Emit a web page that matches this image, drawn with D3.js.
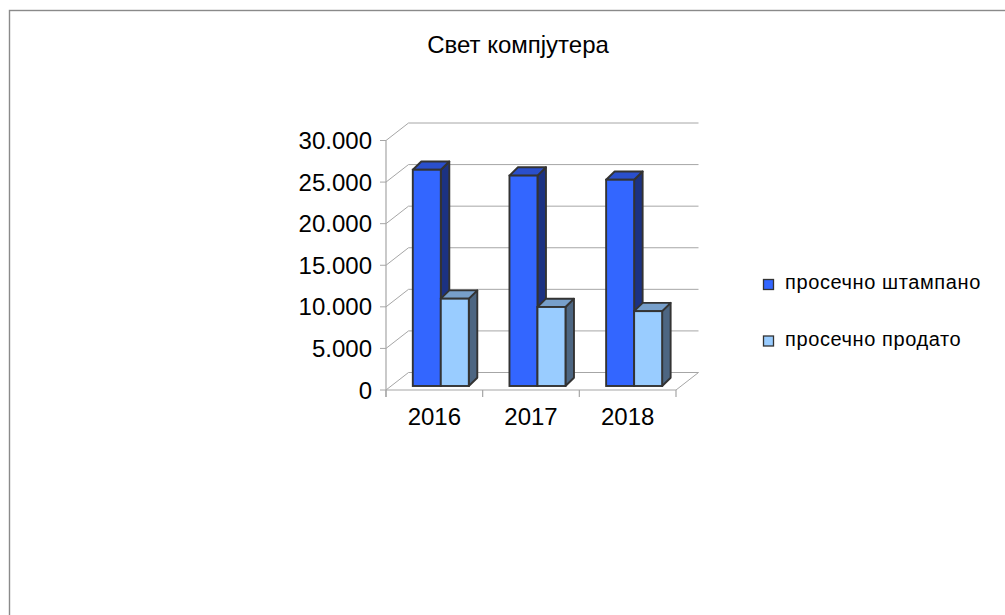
<!DOCTYPE html>
<html><head><meta charset="utf-8">
<script src="https://cdn.jsdelivr.net/npm/d3@7"></script>
<style>html,body{margin:0;padding:0;background:#fff;}svg{display:block;}</style>
</head><body>
<svg id="chart" width="1005" height="615"></svg>
<script>
const title = "Свет компјутера";
const categories = ["2016", "2017", "2018"];
const seriesNames = ["просечно штампано", "просечно продато"];
const printed = [26000, 25300, 24800];
const sold = [10500, 9500, 9000];
const yTicks = [0, 5000, 10000, 15000, 20000, 25000, 30000];
const yTickLabels = ["0", "5.000", "10.000", "15.000", "20.000", "25.000", "30.000"];

const series = [
  {name: seriesNames[0], values: printed, front: "#3366ff", top: "#2a4fcc", side: "#1c3282", legend: "#3366ff"},
  {name: seriesNames[1], values: sold, front: "#99ccff", top: "#779fca", side: "#4d6682", legend: "#99ccff"}
];

const svg = d3.select("#chart");
const font = "'Liberation Sans', Arial, sans-serif";

// border
svg.append("rect").attr("x", 9.5).attr("y", 10.5).attr("width", 1100).attr("height", 700)
  .attr("fill", "none").attr("stroke", "#8a8a8a").attr("stroke-width", 1.4);

// title
svg.append("text").attr("x", 518).attr("y", 53).attr("text-anchor", "middle")
  .attr("font-family", font).attr("font-size", 24).attr("fill", "#000").text(title);

// geometry
const x0 = 386, x1 = 676;
const wallDx = 22.5, wallDy = -17.5;
const y = d3.scaleLinear().domain([0, 30000]).range([390, 140.5]);
const xb = d3.scaleBand().domain(categories).range([x0, x1]).padding(0);
const grid = "#a6a6a6";

const g = svg.append("g");
// back wall gridlines + left wall diagonals
yTicks.forEach((t, i) => {
  const yy = y(t);
  g.append("line").attr("x1", x0 + wallDx).attr("x2", x1 + wallDx)
    .attr("y1", yy + wallDy).attr("y2", yy + wallDy).attr("stroke", grid).attr("stroke-width", 1);
  g.append("line").attr("x1", x0).attr("y1", yy).attr("x2", x0 + wallDx).attr("y2", yy + wallDy)
    .attr("stroke", grid).attr("stroke-width", 1);
  g.append("line").attr("x1", x0 - 6).attr("x2", x0).attr("y1", yy).attr("y2", yy)
    .attr("stroke", grid).attr("stroke-width", 1);
  g.append("text").attr("x", 372).attr("y", yy + 8.5).attr("text-anchor", "end")
    .attr("font-family", font).attr("font-size", 24).attr("fill", "#000")
    .text(yTickLabels[i]);
});
// floor right diagonal
g.append("line").attr("x1", x1).attr("y1", y(0)).attr("x2", x1 + wallDx).attr("y2", y(0) + wallDy)
  .attr("stroke", grid).attr("stroke-width", 1);
// front y axis
g.append("line").attr("x1", x0).attr("x2", x0).attr("y1", y(30000)).attr("y2", y(0) + 7)
  .attr("stroke", grid).attr("stroke-width", 1.2);
// front x axis
g.append("line").attr("x1", x0).attr("x2", x1).attr("y1", y(0)).attr("y2", y(0))
  .attr("stroke", grid).attr("stroke-width", 1.2);
categories.concat(["end"]).forEach((c, i) => {
  const xx = i < categories.length ? xb(c) : x1;
  g.append("line").attr("x1", xx).attr("x2", xx).attr("y1", y(0)).attr("y2", y(0) + 7)
    .attr("stroke", grid).attr("stroke-width", 1.2);
});
categories.forEach(c => {
  g.append("text").attr("x", xb(c) + xb.bandwidth() / 2).attr("y", 425).attr("text-anchor", "middle")
    .attr("font-family", font).attr("font-size", 24).attr("fill", "#000").text(c);
});

// bars
const barBaseDy = -4;
const barStart = 26.8;
const barW = 28;
const dDx = 8.5, dDy = -8.3;
const stroke = "#333";
const sw = 1.9;
categories.forEach((c, ci) => {
  series.forEach((s, si) => {
    const bx = xb(c) + barStart + si * barW;
    const by = y(s.values[ci]) + barBaseDy;
    const bb = y(0) + barBaseDy;
    g.append("path").attr("d", `M${bx + barW},${by}L${bx + barW + dDx},${by + dDy}L${bx + barW + dDx},${bb + dDy}L${bx + barW},${bb}Z`)
      .attr("fill", s.side).attr("stroke", stroke).attr("stroke-width", sw).attr("stroke-linejoin", "round");
    g.append("path").attr("d", `M${bx},${by}L${bx + dDx},${by + dDy}L${bx + barW + dDx},${by + dDy}L${bx + barW},${by}Z`)
      .attr("fill", s.top).attr("stroke", stroke).attr("stroke-width", sw).attr("stroke-linejoin", "round");
    g.append("rect").attr("x", bx).attr("y", by).attr("width", barW).attr("height", bb - by)
      .attr("fill", s.front).attr("stroke", stroke).attr("stroke-width", sw);
  });
});

// legend
const lg = svg.append("g");
series.forEach((s, i) => {
  const ly = 279 + i * 56.5;
  lg.append("rect").attr("x", 763.5).attr("y", ly + 0.5).attr("width", 10).attr("height", 10)
    .attr("fill", s.legend).attr("stroke", "#333").attr("stroke-width", 1.3);
  lg.append("text").attr("x", 785).attr("y", ly + 10).attr("font-family", font).attr("font-size", 20)
    .attr("letter-spacing", 0.6).attr("fill", "#000").text(s.name);
});
</script>
</body></html>
